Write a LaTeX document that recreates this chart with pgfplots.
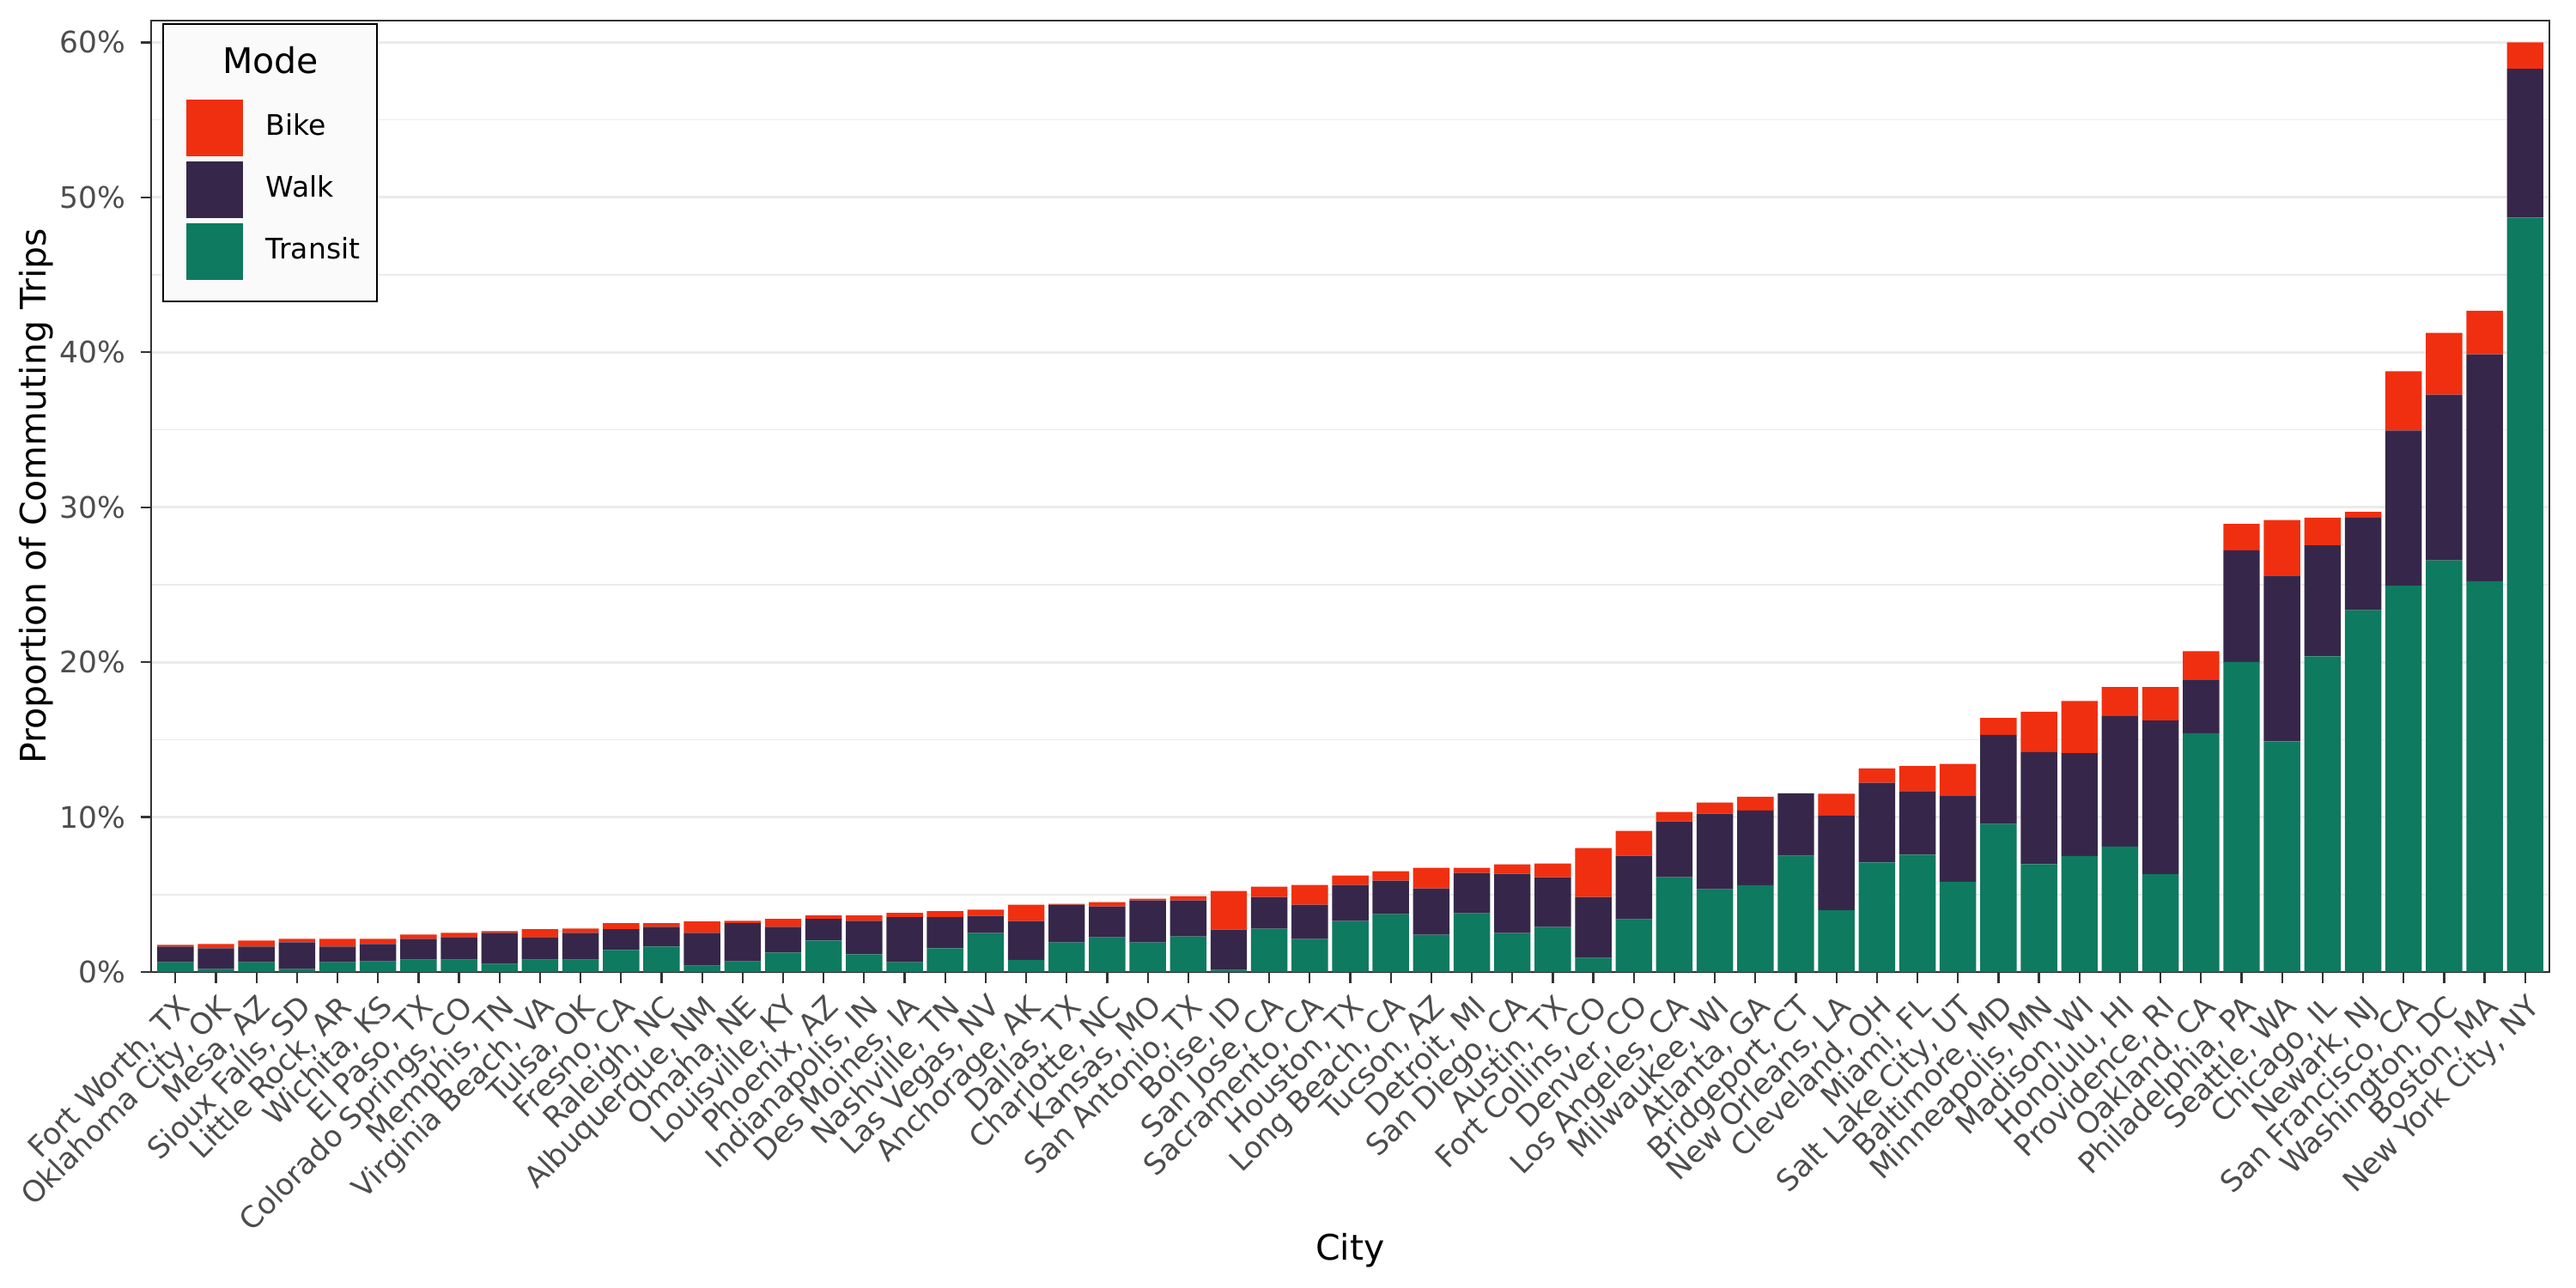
\documentclass[border=0pt]{standalone}
\usepackage{pgfplots}
\pgfplotsset{compat=1.18}
\usepackage{pgfplotstable}
\usepackage{fontspec}
\setmainfont{DejaVu Sans}

\definecolor{bikecol}{RGB}{240,47,17}
\definecolor{walkcol}{RGB}{54,39,74}
\definecolor{transitcol}{RGB}{14,122,96}
\definecolor{gridcol}{RGB}{235,235,235}
\definecolor{legfill}{RGB}{250,250,250}
\definecolor{tickcol}{RGB}{51,51,51}
\definecolor{labcol}{RGB}{77,77,77}

% share of commuting trips (percent), stacked: transit, walk, bike
\pgfplotstableread{
idx transit walk bike
0  0.63 1.01 0.11
1  0.19 1.34 0.28
2  0.63 1.01 0.39
3  0.19 1.73 0.22
4  0.63 1.01 0.50
5  0.69 1.12 0.33
6  0.80 1.34 0.28
7  0.80 1.45 0.28
8  0.52 2.01 0.11
9  0.80 1.45 0.51
10 0.80 1.73 0.28
11 1.42 1.34 0.39
12 1.64 1.28 0.23
13 0.41 2.12 0.73
14 0.69 2.46 0.16
15 1.25 1.67 0.51
16 2.03 1.40 0.22
17 1.14 2.17 0.34
18 0.63 2.91 0.28
19 1.53 2.01 0.39
20 2.52 1.11 0.39
21 0.79 2.50 1.05
22 1.90 2.44 0.06
23 2.24 1.99 0.28
24 1.90 2.72 0.11
25 2.29 2.33 0.28
26 0.13 2.61 2.49
27 2.79 2.05 0.67
28 2.13 2.21 1.28
29 3.29 2.33 0.61
30 3.73 2.17 0.61
31 2.40 3.00 1.33
32 3.79 2.61 0.33
33 2.51 3.83 0.61
34 2.90 3.22 0.89
35 0.91 3.93 3.16
36 3.40 4.10 1.61
37 6.12 3.60 0.61
38 5.34 4.88 0.72
39 5.60 4.83 0.89
40 7.50 4.03 0.00
41 3.99 6.10 1.42
42 7.08 5.13 0.93
43 7.57 4.11 1.62
44 5.82 5.57 2.04
45 9.56 5.74 1.10
46 6.96 7.24 2.60
47 7.49 6.63 3.37
48 8.10 8.42 1.87
49 6.31 9.92 2.16
50 15.42 3.46 1.83
51 20.02 7.20 1.71
52 14.89 10.70 3.58
53 20.38 7.16 1.79
54 23.35 5.98 0.37
55 24.94 10.01 3.82
56 26.57 10.70 3.98
57 25.22 14.65 2.81
58 48.70 9.60 1.70
}\commute

\begin{document}
\begin{tikzpicture}
\path[use as bounding box] (0,0) rectangle (600pt,300pt);
\begin{axis}[
    at={(35.2pt,73.6pt)}, anchor=south west,
    scale only axis, width=558.6pt, height=221.6pt,
    ybar stacked, bar width=0.9,
    xmin=-0.6, xmax=58.6, ymin=0, ymax=61.41,
    enlarge x limits=false, enlarge y limits=false,
    xtick={0,...,58},
    xticklabels={{Fort Worth, TX},{Oklahoma City, OK},{Mesa, AZ},{Sioux Falls, SD},{Little Rock, AR},{Wichita, KS},{El Paso, TX},{Colorado Springs, CO},{Memphis, TN},{Virginia Beach, VA},{Tulsa, OK},{Fresno, CA},{Raleigh, NC},{Albuquerque, NM},{Omaha, NE},{Louisville, KY},{Phoenix, AZ},{Indianapolis, IN},{Des Moines, IA},{Nashville, TN},{Las Vegas, NV},{Anchorage, AK},{Dallas, TX},{Charlotte, NC},{Kansas, MO},{San Antonio, TX},{Boise, ID},{San Jose, CA},{Sacramento, CA},{Houston, TX},{Long Beach, CA},{Tucson, AZ},{Detroit, MI},{San Diego, CA},{Austin, TX},{Fort Collins, CO},{Denver, CO},{Los Angeles, CA},{Milwaukee, WI},{Atlanta, GA},{Bridgeport, CT},{New Orleans, LA},{Cleveland, OH},{Miami, FL},{Salt Lake City, UT},{Baltimore, MD},{Minneapolis, MN},{Madison, WI},{Honolulu, HI},{Providence, RI},{Oakland, CA},{Philadelphia, PA},{Seattle, WA},{Chicago, IL},{Newark, NJ},{San Francisco, CA},{Washington, DC},{Boston, MA},{New York City, NY}},
    ytick={0,10,...,60},
    yticklabels={0\%,10\%,20\%,30\%,40\%,50\%,60\%},
    minor ytick={5,15,...,55},
    ymajorgrids, yminorgrids,
    major grid style={color=gridcol, line width=0.6pt},
    minor grid style={color=gridcol, line width=0.3pt},
    major tick length=2.5pt, minor tick length=0pt,
    tick align=outside, tick pos=left,
    every tick/.style={color=tickcol, line width=0.45pt},
    axis line style={color=tickcol, line width=0.3pt},
    xticklabel style={rotate=45, anchor=north east, inner sep=1.5pt,
        font=\fontsize{6.9}{8}\selectfont, color=labcol},
    yticklabel style={font=\fontsize{6.9}{8}\selectfont, color=labcol},
    xlabel={City},
    xlabel style={at={(axis description cs:0.5,-0.303)}, anchor=base,
        font=\fontsize{8.2}{10}\selectfont},
    ylabel={Proportion of Commuting Trips},
    ylabel style={at={(axis description cs:-0.044,0.5)}, anchor=base,
        font=\fontsize{8.2}{10}\selectfont},
    legend image code/.code={\draw[#1, draw=none] (0pt,-6.6pt) rectangle (13.2pt,6.6pt);},
    reverse legend,
    legend cell align=left,
    legend style={at={(axis description cs:0.01432,0.9179)}, anchor=north west,
        draw=none, fill=none, inner sep=0pt, row sep=1.2pt, column sep=5.4pt,
        nodes={inner sep=0pt, font=\fontsize{6.6}{8}\selectfont}},
]
\addplot[draw=none, fill=transitcol] table[x=idx, y=transit] {\commute};
\addplot[draw=none, fill=walkcol] table[x=idx, y=walk] {\commute};
\addplot[draw=none, fill=bikecol] table[x=idx, y=bike] {\commute};
\legend{Transit, Walk, Bike}
% panel border over the bars, legend frame with its title
\draw[color=tickcol, line width=0.35pt] (rel axis cs:0,0) rectangle (rel axis cs:1,1);
\draw[black, line width=0.45pt, fill=legfill]
    (axis description cs:0.0050,0.7049) rectangle (axis description cs:0.0942,0.9964)
    (axis description cs:0.0498,0.9449)
    node[anchor=base, text=black, font=\fontsize{8.2}{10}\selectfont] {Mode};
\end{axis}
\end{tikzpicture}
\end{document}
